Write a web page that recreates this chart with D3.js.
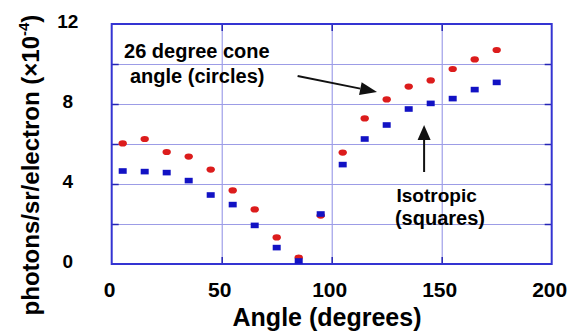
<!DOCTYPE html>
<html>
<head>
<meta charset="utf-8">
<script src="https://cdn.jsdelivr.net/npm/d3@7"></script>
<style>
  body { margin: 0; background: #fff; }
  text { font-family: "Liberation Sans", Arial, sans-serif; font-weight: bold; fill: #000; }
</style>
</head>
<body>
<svg id="chart"></svg>
<script>
// Data
const angles = [5, 15, 25, 35, 45, 55, 65, 75, 85, 95, 105, 115, 125, 135, 145, 155, 165, 175];
const coneValues = [6.03, 6.25, 5.6, 5.37, 4.72, 3.68, 2.73, 1.33, 0.32, 2.42, 5.57, 7.28, 8.23, 8.87, 9.18, 9.75, 10.23, 10.7];
const isoValues = [4.65, 4.62, 4.57, 4.17, 3.45, 2.97, 1.93, 0.82, 0.15, 2.5, 4.97, 6.25, 6.95, 7.75, 8.03, 8.27, 8.72, 9.08];
const xTicks = [0, 50, 100, 150, 200];
const yTicks = [0, 4, 8, 12];
const xGrid = [50, 100, 150];
const yGrid = [2, 4, 6, 8, 10];

const width = 575;
const height = 332;
const margin = { top: 24, right: 23.3, bottom: 68, left: 111.7 };
const innerWidth = width - margin.left - margin.right;
const innerHeight = height - margin.top - margin.bottom;

const svg = d3.select("#chart").attr("width", width).attr("height", height);

// Scales
const x = d3.scaleLinear().domain([0, 200]).range([margin.left, margin.left + innerWidth]);
const y = d3.scaleLinear().domain([0, 12]).range([margin.top + innerHeight, margin.top]);

// helper: axis with lines only (no labels, no domain)
function linesOnly(g, color, w) {
  g.select(".domain").remove();
  g.selectAll("text").remove();
  g.selectAll("line").attr("stroke", color).attr("stroke-width", w);
}

// Grid lines
svg.append("g")
  .attr("transform", `translate(0,${margin.top + innerHeight})`)
  .call(d3.axisBottom(x).tickValues(xGrid).tickSize(-innerHeight))
  .call(linesOnly, "#8c8ce4", 1);

svg.append("g")
  .attr("transform", `translate(${margin.left},0)`)
  .call(d3.axisLeft(y).tickValues(yGrid).tickSize(-innerWidth))
  .call(linesOnly, "#9c9ce6", 1);

// Small inner ticks on all four sides of the frame
const tickLen = 7;
[
  [d3.axisLeft(y).tickValues(yGrid), `translate(${margin.left},0)`],
  [d3.axisRight(y).tickValues(yGrid), `translate(${margin.left + innerWidth},0)`],
  [d3.axisTop(x).tickValues(xGrid), `translate(0,${margin.top})`],
  [d3.axisBottom(x).tickValues(xGrid), `translate(0,${margin.top + innerHeight})`],
].forEach(([axis, tr]) => {
  svg.append("g")
    .attr("transform", tr)
    .call(axis.tickSize(-tickLen))
    .call(linesOnly, "#2424b4", 1.5);
});

// Frame
svg.append("rect")
  .attr("x", margin.left)
  .attr("y", margin.top)
  .attr("width", innerWidth)
  .attr("height", innerHeight)
  .attr("fill", "none")
  .attr("stroke", "#3434d2")
  .attr("stroke-width", 2);

// Tick labels (placed with the scales)
svg.append("g")
  .attr("font-size", 21)
  .attr("text-anchor", "middle")
  .selectAll("text")
  .data(xTicks)
  .join("text")
  .attr("x", (d) => x(d) - 2)
  .attr("y", margin.top + innerHeight + 33)
  .text(d3.format("d"));

svg.append("g")
  .attr("font-size", 19)
  .attr("text-anchor", "middle")
  .selectAll("text")
  .data(yTicks)
  .join("text")
  .attr("x", margin.left - 44)
  .attr("y", (d) => y(d) - 3)
  .attr("dy", "0.35em")
  .text(d3.format("d"));

// Points: circles (26 degree cone) drawn first, squares (isotropic) on top
const cone = angles.map((a, i) => ({ angle: a, value: coneValues[i] }));
const iso = angles.map((a, i) => ({ angle: a, value: isoValues[i] }));

svg.append("g")
  .selectAll("ellipse")
  .data(cone)
  .join("ellipse")
  .attr("cx", (d) => x(d.angle))
  .attr("cy", (d) => y(d.value))
  .attr("rx", 4.2)
  .attr("ry", 3.1)
  .attr("fill", "#dc1c1c");

const sq = { w: 8, h: 5.6 };
svg.append("g")
  .selectAll("rect")
  .data(iso)
  .join("rect")
  .attr("x", (d) => x(d.angle) - sq.w / 2)
  .attr("y", (d) => y(d.value) - sq.h / 2)
  .attr("width", sq.w)
  .attr("height", sq.h)
  .attr("fill", "#1212c4");

// Annotations
const notes = svg.append("g").attr("font-size", 20);
notes.append("text").attr("x", x(5.6)).attr("y", y(10.3)).text("26 degree cone");
notes.append("text").attr("x", x(8.3)).attr("y", y(9.05)).text("angle (circles)");
notes.append("text").attr("x", x(147.7)).attr("y", y(3.1)).attr("text-anchor", "middle")
  .attr("font-size", 19).text("Isotropic");
notes.append("text").attr("x", x(149.2)).attr("y", y(1.95)).attr("text-anchor", "middle")
  .text("(squares)");

// Arrows
function arrow(x1, y1, x2, y2, headLen, headWidth) {
  const ang = Math.atan2(y2 - y1, x2 - x1);
  const bx = x2 - headLen * Math.cos(ang);
  const by = y2 - headLen * Math.sin(ang);
  const px = (headWidth / 2) * Math.sin(ang);
  const py = (headWidth / 2) * Math.cos(ang);
  svg.append("line")
    .attr("x1", x1).attr("y1", y1).attr("x2", bx).attr("y2", by)
    .attr("stroke", "#111").attr("stroke-width", 2);
  svg.append("path")
    .attr("d", `M${x2},${y2}L${bx + px},${by - py}L${bx - px},${by + py}Z`)
    .attr("fill", "#111");
}
arrow(x(84.5), y(9.4), x(120.6), y(8.6), 17, 13);
arrow(x(142), y(4.6), x(142), y(6.95), 15, 13);

// Axis titles
svg.append("text")
  .attr("x", 327)
  .attr("y", 326)
  .attr("text-anchor", "middle")
  .attr("font-size", 25)
  .text("Angle (degrees)");

const yTitle = svg.append("text")
  .attr("transform", "translate(39,165) rotate(-90)")
  .attr("text-anchor", "middle")
  .attr("font-size", 24);
yTitle.append("tspan").text("photons/sr/electron (×10");
yTitle.append("tspan").attr("font-size", 15).attr("dy", -10).text("-4");
yTitle.append("tspan").attr("dy", 10).text(")");
</script>
</body>
</html>
